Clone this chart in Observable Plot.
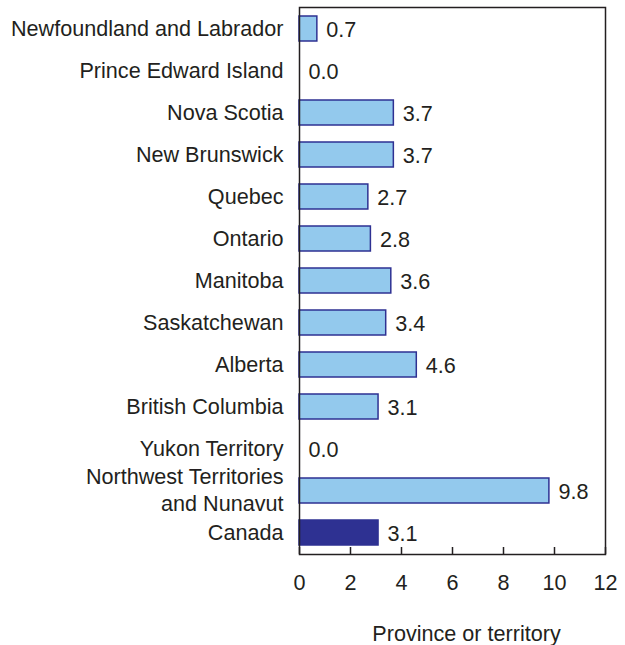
<!DOCTYPE html>
<html>
<head>
<meta charset="utf-8">
<script src="https://cdn.jsdelivr.net/npm/d3@7"></script>
<script src="https://cdn.jsdelivr.net/npm/@observablehq/plot@0.6"></script>
<style>
  html, body { margin: 0; padding: 0; background: #fff; }
</style>
</head>
<body>
<div id="chart"></div>
<script>
const regions = [
  "Newfoundland and Labrador",
  "Prince Edward Island",
  "Nova Scotia",
  "New Brunswick",
  "Quebec",
  "Ontario",
  "Manitoba",
  "Saskatchewan",
  "Alberta",
  "British Columbia",
  "Yukon Territory",
  "Northwest Territories\nand Nunavut",
  "Canada"
];
const values = [0.7, 0.0, 3.7, 3.7, 2.7, 2.8, 3.6, 3.4, 4.6, 3.1, 0.0, 9.8, 3.1];
const xTicks = [0, 2, 4, 6, 8, 10, 12];
const axisTitle = ["Province or territory"];

const data = regions.map((r, i) => ({region: r, value: values[i], total: r === "Canada"}));

const W = 625, H = 645, mTop = 7, mBottom = 91, mLeft = 299, mRight = 20;
const frameH = H - mTop - mBottom;
const ink = "#231F20";
const fs = 21.6;

const chart = Plot.plot({
  width: W,
  height: H,
  marginTop: mTop,
  marginBottom: mBottom,
  marginLeft: mLeft,
  marginRight: mRight,
  style: {fontFamily: "'Liberation Sans', Arial, sans-serif", fontSize: fs + "px", color: ink, background: "#fff"},
  x: {domain: [0, 12]},
  y: {domain: regions, paddingInner: 0.4, paddingOuter: 0.19},
  marks: [
    Plot.barX(data, {
      y: "region",
      x: "value",
      fill: d => d.total ? "#2E3192" : "#93C9ED",
      stroke: "#2E3192",
      strokeWidth: 1.5
    }),
    Plot.text(data, {
      y: "region",
      x: "value",
      text: d => d.value.toFixed(1),
      textAnchor: "start",
      dx: 9,
      dy: 1,
      fontSize: fs,
      fill: ink
    }),
    Plot.ruleX(xTicks, {x: d => d, insetTop: frameH - 7, stroke: ink, strokeWidth: 1.5}),
    Plot.frame({stroke: ink, strokeWidth: 1.5}),
    Plot.axisY({tickSize: 0, tickPadding: 16, fontSize: fs, lineHeight: 1.25, dy: -2, label: null, fill: ink}),
    Plot.axisX({ticks: xTicks, tickSize: 0, tickPadding: 20, fontSize: fs, label: null, fill: ink}),
    Plot.text(axisTitle, {frameAnchor: "bottom", dy: 86, dx: 14, fontSize: fs, fill: ink})
  ]
});

document.getElementById("chart").appendChild(chart);
</script>
</body>
</html>
